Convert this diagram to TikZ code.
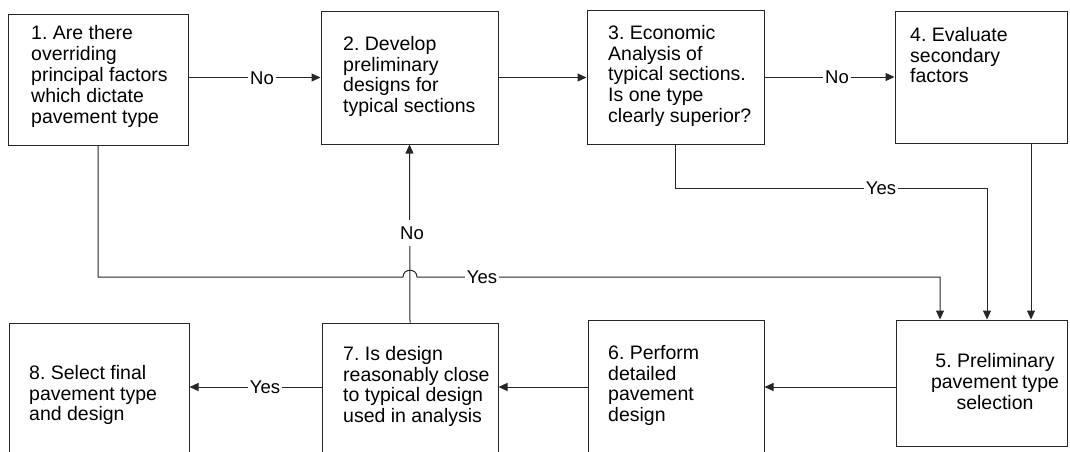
\documentclass[tikz,border=0pt]{standalone}
\usepackage{fontspec}
\setmainfont{Liberation Sans}
\usetikzlibrary{arrows.meta}
\frenchspacing
\begin{document}
\begin{tikzpicture}[x=1pt,y=-1pt,
  box/.style={draw=black!85, line width=1pt, inner sep=0pt},
  txt/.style={anchor=north west, inner sep=0pt, align=left, font=\fontsize{19.5}{20.8}\selectfont},
  conn/.style={draw=black!85, line width=1pt},
  arr/.style={conn, -{Triangle[length=9pt,width=8pt]}},
  lbl/.style={fill=white, inner xsep=2pt, inner ysep=1pt, font=\fontsize{18.5}{20}\selectfont}]
\useasboundingbox (0,0) rectangle (1070,451);
\clip (0,0) rectangle (1070,451);
% boxes
\node[box, minimum width=180pt, minimum height=131pt] (b1) at (98,79.5) {};
\node[box, minimum width=177pt, minimum height=133pt] (b2) at (409.5,77.5) {};
\node[box, minimum width=177pt, minimum height=134pt] (b3) at (675.5,77) {};
\node[box, minimum width=172pt, minimum height=132pt] (b4) at (981,77) {};
\node[box, minimum width=171pt, minimum height=126pt] (b5) at (981.5,383) {};
\node[box, minimum width=176pt, minimum height=136pt] (b6) at (676,388) {};
\node[box, minimum width=176pt, minimum height=133pt] (b7) at (410,389.5) {};
\node[box, minimum width=180pt, minimum height=133pt] (b8) at (99,389.5) {};
% texts
\node[txt] (t1) at (31,25.6) {1. Are there\\overriding\\principal factors\\which dictate\\pavement type};
\node[txt] (t2) at (343,36) {2. Develop\\preliminary\\designs for\\typical sections};
\node[txt] (t3) at (608,25) {3. Economic\\Analysis of\\typical sections.\\Is one type\\clearly superior?};
\node[txt] (t4) at (910,27) {4. Evaluate\\secondary\\factors};
\node[txt, anchor=north, align=center] (t5) at (995,353.5) {5. Preliminary\\pavement type\\selection};
\node[txt] (t6) at (608,345) {6. Perform\\detailed\\pavement\\design};
\node[txt] (t7) at (343,346) {7. Is design\\reasonably close\\to typical design\\used in analysis};
\node[txt] (t8) at (29,365) {8. Select final\\pavement type\\and design};
% helper coordinates
\coordinate (c3) at (987,188);
\coordinate (c4) at (1031,0);
\coordinate (hl) at (403,277);
\coordinate (hr) at (417,277);
\coordinate (c1) at (940,277);
\coordinate (r2) at (0,387);
% connectors
\draw[arr] (b1.east |- b2.west) -- (b2.west);
\draw[arr] (b2.east) -- (b3.west |- b2.east);
\draw[arr] (b3.east) -- (b4.west |- b3.east);
\draw[arr] (b3.south) |- (c3) -- (c3 |- b5.north);
\draw[arr] (c4 |- b4.south) -- (c4 |- b5.north);
\draw[arr] (b1.south) |- (hl) .. controls +(0,-9) and +(0,-9) .. (hr) -- (c1) -- (c1 |- b5.north);
\draw[arr] (b5.west |- r2) -- (b6.east |- r2);
\draw[arr] (b6.west |- r2) -- (b7.east |- r2);
\draw[arr] (b7.west |- r2) -- (b8.east |- r2);
\draw[arr] (b7.north) -- (b2.south);
% labels
\node[lbl] (l1) at (262,78) {No};
\node[lbl] (l2) at (837,77) {No};
\node[lbl] (l3) at (881,188) {Yes};
\node[lbl] (l4) at (482,277) {Yes};
\node[lbl, inner ysep=7pt] (l5) at (412,233) {No};
\node[lbl] (l6) at (265,387) {Yes};
\end{tikzpicture}
\end{document}
